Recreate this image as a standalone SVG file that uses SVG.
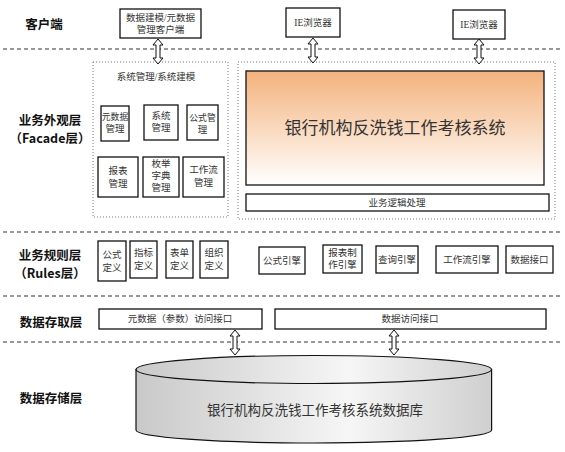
<svg xmlns="http://www.w3.org/2000/svg" xmlns:xlink="http://www.w3.org/1999/xlink" width="565" height="452" viewBox="0 0 565 452">
<defs>
<style>
.bg{fill:#fff}
.layer{fill:none;stroke:#333;stroke-width:1.2;stroke-dasharray:4 3}
.grp{fill:none;stroke:#777;stroke-width:1;stroke-dasharray:1 2}
.box{fill:#fff;stroke:#111;stroke-width:1.3}
.lbl{font-family:"Noto Sans CJK SC","Liberation Sans",sans-serif;font-weight:bold;font-size:12.5px;fill:#111;text-anchor:middle}
.t{font-family:"Liberation Serif","Noto Sans CJK SC",serif;font-size:9.5px;fill:#333;text-anchor:middle}
.s{font-size:8.8px}
.big{font-family:"Liberation Serif","Noto Sans CJK SC",serif;font-size:17px;fill:#333;text-anchor:middle}
.arr{fill:#fff;stroke:#111;stroke-width:1}
</style>
<linearGradient id="orange" x1="0" y1="0" x2="0" y2="1">
<stop offset="0" stop-color="#f4b27c"/>
<stop offset="1" stop-color="#ffffff"/>
</linearGradient>
<linearGradient id="cyl" x1="0" y1="0" x2="1" y2="0">
<stop offset="0" stop-color="#c9c9c9"/>
<stop offset="0.6" stop-color="#f6f6f6"/>
<stop offset="1" stop-color="#cfcfcf"/>
</linearGradient>
<path id="dbl" class="arr" d="M0,0 L5,6 L2,6 L2,19 L5,19 L0,25 L-5,19 L-2,19 L-2,6 L-5,6 Z"/>
</defs>
<rect class="bg" width="565" height="452"/>

<g id="layers">
<line class="layer" x1="3" y1="49" x2="560" y2="49"/>
<line class="layer" x1="3" y1="232" x2="560" y2="232"/>
<line class="layer" x1="3" y1="296" x2="560" y2="296"/>
<line class="layer" x1="3" y1="342" x2="560" y2="342"/>
</g>

<g id="layer-labels">
<text class="lbl" x="44" y="29">客户端</text>
<text class="lbl" x="50" y="125">业务外观层</text>
<text class="lbl" x="50" y="143">（Facade层）</text>
<text class="lbl" x="50" y="260">业务规则层</text>
<text class="lbl" x="50" y="278">（Rules层）</text>
<text class="lbl" x="51" y="327">数据存取层</text>
<text class="lbl" x="51" y="403">数据存储层</text>
</g>

<g id="client-modeling">
<rect class="box" x="120" y="9" width="81" height="29"/>
<text class="t" x="160.5" y="21">数据建模/元数据</text>
<text class="t" x="160.5" y="33">管理客户端</text>
</g>
<g id="client-ie1">
<rect class="box" x="286" y="8" width="54" height="29"/>
<text class="t" x="313" y="26">IE浏览器</text>
</g>
<g id="client-ie2">
<rect class="box" x="453" y="10" width="52" height="29"/>
<text class="t" x="479" y="28">IE浏览器</text>
</g>

<g id="sysmgmt-group">
<rect class="grp" x="93" y="62" width="135" height="155"/>
<text class="t" x="156" y="80">系统管理/系统建模</text>
</g>
<g id="meta-mgmt">
<rect class="box" x="101" y="106" width="28" height="35"/>
<text class="t s" x="115" y="120">元数据</text>
<text class="t" x="115" y="132">管理</text>
</g>
<g id="sys-mgmt">
<rect class="box" x="144" y="105" width="34" height="35"/>
<text class="t" x="161" y="119">系统</text>
<text class="t" x="161" y="131">管理</text>
</g>
<g id="formula-mgmt">
<rect class="box" x="187" y="105" width="31" height="35"/>
<text class="t s" x="202.5" y="121">公式管</text>
<text class="t" x="202.5" y="133">理</text>
</g>
<g id="report-mgmt">
<rect class="box" x="98" y="157" width="40" height="40"/>
<text class="t" x="118" y="174">报表</text>
<text class="t" x="118" y="187">管理</text>
</g>
<g id="enum-mgmt">
<rect class="box" x="143" y="157" width="36" height="40"/>
<text class="t" x="161" y="167">枚举</text>
<text class="t" x="161" y="179">字典</text>
<text class="t" x="161" y="191">管理</text>
</g>
<g id="workflow-mgmt">
<rect class="box" x="183" y="157" width="41" height="40"/>
<text class="t" x="203.5" y="173">工作流</text>
<text class="t" x="203.5" y="186">管理</text>
</g>

<g id="system-group">
<rect class="grp" x="238" y="62" width="317" height="157"/>
</g>
<g id="main-system">
<rect x="246" y="71" width="298" height="114" fill="url(#orange)" stroke="#111" stroke-width="1.3"/>
<text class="big" x="395" y="134">银行机构反洗钱工作考核系统</text>
</g>
<g id="business-logic">
<rect class="box" x="246" y="194" width="303" height="17"/>
<text class="t" x="397" y="206">业务逻辑处理</text>
</g>

<g id="rule-formula">
<rect class="box" x="98" y="241" width="28" height="40"/>
<text class="t" x="112" y="258">公式</text>
<text class="t" x="112" y="271">定义</text>
</g>
<g id="rule-index">
<rect class="box" x="130" y="241" width="27" height="37"/>
<text class="t" x="143.5" y="256">指标</text>
<text class="t" x="143.5" y="269">定义</text>
</g>
<g id="rule-form">
<rect class="box" x="166" y="241" width="27" height="37"/>
<text class="t" x="179.5" y="256">表单</text>
<text class="t" x="179.5" y="269">定义</text>
</g>
<g id="rule-org">
<rect class="box" x="200" y="241" width="28" height="37"/>
<text class="t" x="214" y="256">组织</text>
<text class="t" x="214" y="269">定义</text>
</g>
<g id="engine-formula">
<rect class="box" x="259" y="247" width="46" height="27"/>
<text class="t" x="282" y="264">公式引擎</text>
</g>
<g id="engine-report">
<rect class="box" x="323" y="245" width="39" height="28"/>
<text class="t" x="342.5" y="256">报表制</text>
<text class="t" x="342.5" y="268">作引擎</text>
</g>
<g id="engine-query">
<rect class="box" x="376" y="246" width="42" height="27"/>
<text class="t" x="397" y="263">查询引擎</text>
</g>
<g id="engine-workflow">
<rect class="box" x="436" y="246" width="62" height="27"/>
<text class="t" x="467" y="263">工作流引擎</text>
</g>
<g id="data-interface">
<rect class="box" x="506" y="246" width="47" height="27"/>
<text class="t" x="529.5" y="263">数据接口</text>
</g>

<g id="meta-access">
<rect class="box" x="99" y="309" width="163" height="20"/>
<text class="t" x="180" y="322">元数据（参数）访问接口</text>
</g>
<g id="data-access">
<rect class="box" x="275" y="309" width="271" height="20"/>
<text class="t" x="410" y="322">数据访问接口</text>
</g>

<g id="database">
<path d="M136,369.5 L136,430 A177.8,13 0 0 0 491.6,430 L491.6,369.5 Z" fill="url(#cyl)" stroke="#111" stroke-width="1.2"/>
<ellipse cx="313.8" cy="369.5" rx="177.8" ry="14" fill="url(#cyl)" stroke="#111" stroke-width="1.2"/>
<text class="t" x="315" y="415" style="font-size:13.5px">银行机构反洗钱工作考核系统数据库</text>
</g>

<g id="connectors">
<use xlink:href="#dbl" x="158" y="39"/>
<use xlink:href="#dbl" x="313" y="38"/>
<use xlink:href="#dbl" x="479" y="39"/>
<use xlink:href="#dbl" x="235" y="330"/>
<use xlink:href="#dbl" x="394" y="330"/>
</g>
</svg>
